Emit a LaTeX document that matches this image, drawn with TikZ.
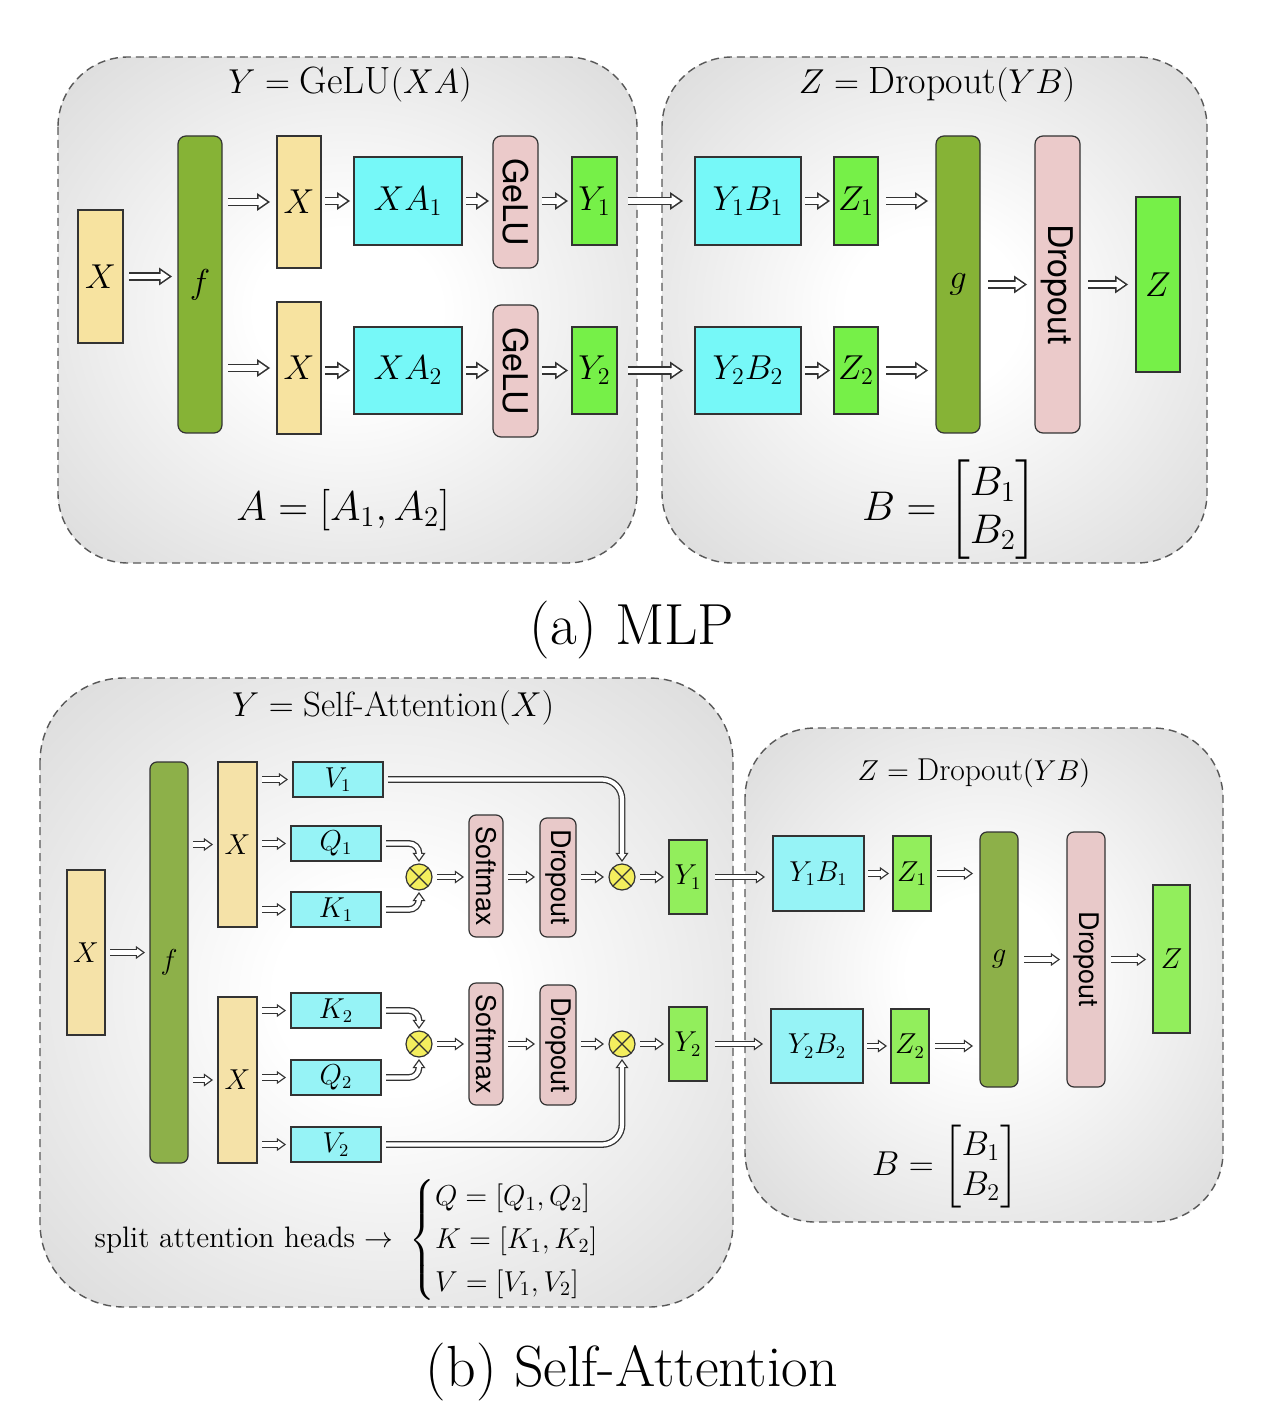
\documentclass[tikz,border=0pt]{standalone}
\usepackage{amsmath}
\usepackage{graphicx}
\usepackage{fontspec}
\newfontfamily\hv{TeX Gyre Heros}
\usetikzlibrary{arrows.meta,calc}

\definecolor{ylwA}{HTML}{F7E3A0}
\definecolor{olvA}{HTML}{86B336}
\definecolor{cynA}{HTML}{76F8F8}
\definecolor{pnkA}{HTML}{EBCACA}
\definecolor{grnA}{HTML}{76F048}
\definecolor{ylwB}{HTML}{F5E2A8}
\definecolor{olvB}{HTML}{8DB049}
\definecolor{cynB}{HTML}{96F3F6}
\definecolor{pnkB}{HTML}{E8C9C9}
\definecolor{grnB}{HTML}{92EE5C}
\definecolor{mulB}{HTML}{F4EE5E}
\definecolor{edge}{HTML}{333333}

\pgfdeclareradialshading{panelshade}{\pgfpointorigin}{color(0bp)=(white); color(8bp)=(white); color(72bp)=(black!33)}

\newcommand\fA{\fontsize{17}{20}\selectfont}
\newcommand\fAs{\fontsize{17}{20}\selectfont\hv}
\newcommand\fB{\fontsize{13.5}{16}\selectfont}
\newcommand\fBs{\fontsize{13.5}{16}\selectfont\hv}

\newcommand\mkbox[7]{%
  \pgfmathsetmacro\mkcx{(#3+#5)/2}\pgfmathsetmacro\mkcy{(#4+#6)/2}%
  \pgfmathsetmacro\mkww{(#5-#3)*0.5}\pgfmathsetmacro\mkhh{(#6-#4)*0.5}%
  \node[#2, minimum width=\mkww pt, minimum height=\mkhh pt] (#1) at (\mkcx,\mkcy) {#7};}

\tikzset{
  panel/.style={draw=black!65, dash pattern=on 4pt off 2.5pt, line width=0.7pt, rounded corners=35pt, shading=panelshade},
  base/.style={draw=edge, line width=0.6pt, inner sep=0pt, outer sep=0pt},
  yelA/.style={base, fill=ylwA}, oliA/.style={base, fill=olvA, rounded corners=4pt},
  cyaA/.style={base, fill=cynA}, pinA/.style={base, fill=pnkA, rounded corners=4pt},
  greA/.style={base, fill=grnA},
  yelB/.style={base, fill=ylwB}, oliB/.style={base, fill=olvB, rounded corners=3.5pt},
  cyaB/.style={base, fill=cynB}, pinB/.style={base, fill=pnkB, rounded corners=3.5pt},
  greB/.style={base, fill=grnB},
  mul/.style={circle, draw=edge, line width=0.6pt, fill=mulB, minimum size=13pt, inner sep=0pt, outer sep=0pt,
    path picture={\draw[edge, line width=0.6pt] (path picture bounding box.south west) -- (path picture bounding box.north east)
      (path picture bounding box.north west) -- (path picture bounding box.south east);}},
  % hollow block arrows: dark outer layer (preaction) + white inner layer
  arrA/.style 2 args={draw=white, line width=2.8pt, shorten <=#1, shorten >=#2+1.41pt,
    -{Triangle[length=4.29pt, width=5.94pt, line width=0pt, color=white, fill=white]},
    preaction={draw=edge, line width=4.4pt, shorten >=#2,
      -{Triangle[length=6.5pt, width=9pt, line width=0pt, color=edge, fill=edge]}}},
  arrB/.style 2 args={draw=white, line width=2.1pt, shorten <=#1, shorten >=#2+1.11pt,
    -{Triangle[length=2.84pt, width=4.07pt, line width=0pt, color=white, fill=white]},
    preaction={draw=edge, line width=3.4pt, shorten >=#2,
      -{Triangle[length=4.6pt, width=6.6pt, line width=0pt, color=edge, fill=edge]}}},
  txt/.style={inner sep=0pt},
}

\begin{document}
\begin{tikzpicture}[x=0.5pt,y=-0.5pt]
\useasboundingbox[fill=white] (0,0) rectangle (1282,1422);

% ---------------- (a) MLP ----------------
\path[panel] (58,57) rectangle (637,563);
\path[panel] (662,57) rectangle (1207,563);

\node[txt] (a-t1) at (350,85) {\fontsize{19}{23}\selectfont $Y = \mathrm{GeLU}(XA)$};
\node[txt] (a-t2) at (937,85) {\fontsize{19}{23}\selectfont $Z = \mathrm{Dropout}(YB)$};

\mkbox{a-x}{yelA}{78}{210}{123}{343}{\fA$X$}
\mkbox{a-f}{oliA}{178}{136}{222}{433}{\fA$f$}
\mkbox{a-x1}{yelA}{277}{136}{321}{268}{\fA$X$}
\mkbox{a-x2}{yelA}{277}{302}{321}{434}{\fA$X$}
\mkbox{a-xa1}{cyaA}{354}{157}{462}{245}{\fA$XA_1$}
\mkbox{a-xa2}{cyaA}{354}{327}{462}{414}{\fA$XA_2$}
\mkbox{a-gl1}{pinA}{493}{136}{538}{268}{\rotatebox{-90}{\fAs GeLU}}
\mkbox{a-gl2}{pinA}{493}{305}{538}{437}{\rotatebox{-90}{\fAs GeLU}}
\mkbox{a-y1}{greA}{572}{157}{617}{245}{\fA$Y_1$}
\mkbox{a-y2}{greA}{572}{327}{617}{414}{\fA$Y_2$}
\mkbox{a-yb1}{cyaA}{695}{157}{801}{245}{\fA$Y_1B_1$}
\mkbox{a-yb2}{cyaA}{695}{327}{801}{414}{\fA$Y_2B_2$}
\mkbox{a-z1}{greA}{834}{157}{878}{245}{\fA$Z_1$}
\mkbox{a-z2}{greA}{834}{327}{878}{414}{\fA$Z_2$}
\mkbox{a-g}{oliA}{936}{136}{980}{433}{\fA$g$}
\mkbox{a-dr}{pinA}{1035}{136}{1080}{433}{\rotatebox{-90}{\fAs Dropout}}
\mkbox{a-z}{greA}{1136}{197}{1180}{372}{\fA$Z$}

\draw[arrA={3pt}{3pt}] (a-x.east) -- (a-x.east -| a-f.west);
\draw[arrA={3pt}{3.5pt}] (a-x1.west -| a-f.east) -- (a-x1.west);
\draw[arrA={3pt}{3.5pt}] (a-x2.west -| a-f.east) -- (a-x2.west);
\draw[arrA={2pt}{2pt}] (a-xa1.west -| a-x1.east) -- (a-xa1.west);
\draw[arrA={2pt}{2pt}] (a-xa2.west -| a-x2.east) -- (a-xa2.west);
\draw[arrA={2pt}{2pt}] (a-xa1.east) -- (a-xa1.east -| a-gl1.west);
\draw[arrA={2pt}{2pt}] (a-xa2.east) -- (a-xa2.east -| a-gl2.west);
\draw[arrA={2pt}{2pt}] (a-y1.west -| a-gl1.east) -- (a-y1.west);
\draw[arrA={2pt}{2pt}] (a-y2.west -| a-gl2.east) -- (a-y2.west);
\draw[arrA={5.5pt}{6pt}] (a-y1.east) -- (a-yb1.west);
\draw[arrA={5.5pt}{6pt}] (a-y2.east) -- (a-yb2.west);
\draw[arrA={2pt}{2pt}] (a-yb1.east) -- (a-z1.west);
\draw[arrA={2pt}{2pt}] (a-yb2.east) -- (a-z2.west);
\draw[arrA={4pt}{4pt}] (a-z1.east) -- (a-z1.east -| a-g.west);
\draw[arrA={4pt}{4pt}] (a-z2.east) -- (a-z2.east -| a-g.west);
\draw[arrA={4pt}{4pt}] (a-g.east) -- (a-dr.west);
\draw[arrA={4pt}{4pt}] (a-dr.east) -- (a-dr.east -| a-z.west);

\node[txt] (a-eqA) at (343,510) {\fontsize{21.5}{25}\selectfont $A = [A_1, A_2]$};
\node[txt] (a-eqB) at (950,510) {\fontsize{20.5}{24}\selectfont $B = \begin{bmatrix} B_1\\ B_2\end{bmatrix}$};

\node[txt] (cap-a) at (632,630) {\fontsize{29}{33}\selectfont (a) MLP};

% ---------------- (b) Self-Attention ----------------
\path[panel, rounded corners=42pt] (40,678) rectangle (733,1307);
\path[panel] (745,728) rectangle (1223,1222);

\node[txt] (b-t1) at (393,708) {\fontsize{17.5}{21}\selectfont $Y = \text{Self-Attention}(X)$};
\node[txt] (b-t2) at (974,773) {\fontsize{15.8}{19}\selectfont $Z = \mathrm{Dropout}(YB)$};

\mkbox{b-x}{yelB}{67}{870}{105}{1035}{\fB$X$}
\mkbox{b-f}{oliB}{150}{762}{188}{1163}{\fB$f$}
\mkbox{b-x1}{yelB}{218}{762}{257}{927}{\fB$X$}
\mkbox{b-x2}{yelB}{218}{997}{257}{1163}{\fB$X$}
\mkbox{b-v1}{cyaB}{293}{762}{383}{797}{\fB$V_1$}
\mkbox{b-q1}{cyaB}{291}{826}{381}{861}{\fB$Q_1$}
\mkbox{b-k1}{cyaB}{291}{892}{381}{927}{\fB$K_1$}
\mkbox{b-k2}{cyaB}{291}{993}{381}{1028}{\fB$K_2$}
\mkbox{b-q2}{cyaB}{291}{1060}{381}{1095}{\fB$Q_2$}
\mkbox{b-v2}{cyaB}{291}{1127}{381}{1162}{\fB$V_2$}
\node[mul] (b-m1) at (419,877) {};
\node[mul] (b-m2) at (622,877) {};
\node[mul] (b-m3) at (419,1044) {};
\node[mul] (b-m4) at (622,1044) {};
\mkbox{b-s1}{pinB}{469}{815}{503}{937}{\rotatebox{-90}{\fBs Softmax}}
\mkbox{b-d1}{pinB}{540}{818}{576}{937}{\rotatebox{-90}{\fBs Dropout}}
\mkbox{b-s2}{pinB}{469}{983}{503}{1105}{\rotatebox{-90}{\fBs Softmax}}
\mkbox{b-d2}{pinB}{540}{985}{576}{1105}{\rotatebox{-90}{\fBs Dropout}}
\mkbox{b-y1}{greB}{669}{840}{707}{914}{\fB$Y_1$}
\mkbox{b-y2}{greB}{669}{1007}{707}{1081}{\fB$Y_2$}
\mkbox{b-yb1}{cyaB}{773}{836}{864}{911}{\fB$Y_1B_1$}
\mkbox{b-z1}{greB}{893}{836}{931}{911}{\fB$Z_1$}
\mkbox{b-yb2}{cyaB}{771}{1009}{863}{1083}{\fB$Y_2B_2$}
\mkbox{b-z2}{greB}{891}{1009}{929}{1083}{\fB$Z_2$}
\mkbox{b-g}{oliB}{980}{832}{1018}{1087}{\fB$g$}
\mkbox{b-dr}{pinB}{1067}{832}{1105}{1087}{\rotatebox{-90}{\fBs Dropout}}
\mkbox{b-z}{greB}{1153}{885}{1190}{1033}{\fB$Z$}

\draw[arrB={2.5pt}{2.5pt}] (b-x.east) -- (b-x.east -| b-f.west);
\draw[arrB={2.5pt}{2.5pt}] (b-x1.west -| b-f.east) -- (b-x1.west);
\draw[arrB={2.5pt}{2.5pt}] (b-x2.west -| b-f.east) -- (b-x2.west);
\draw[arrB={2.5pt}{2.5pt}] (b-v1.west -| b-x1.east) -- (b-v1.west);
\draw[arrB={2.5pt}{2.5pt}] (b-q1.west -| b-x1.east) -- (b-q1.west);
\draw[arrB={2.5pt}{2.5pt}] (b-k1.west -| b-x1.east) -- (b-k1.west);
\draw[arrB={2.5pt}{2.5pt}] (b-k2.west -| b-x2.east) -- (b-k2.west);
\draw[arrB={2.5pt}{2.5pt}] (b-q2.west -| b-x2.east) -- (b-q2.west);
\draw[arrB={2.5pt}{2.5pt}] (b-v2.west -| b-x2.east) -- (b-v2.west);
\draw[arrB={2.5pt}{1pt}, rounded corners=5pt] (b-q1.east) -| (b-m1.north);
\draw[arrB={2.5pt}{1pt}, rounded corners=5pt] (b-k1.east) -| (b-m1.south);
\draw[arrB={2.5pt}{1pt}, rounded corners=5pt] (b-k2.east) -| (b-m3.north);
\draw[arrB={2.5pt}{1pt}, rounded corners=5pt] (b-q2.east) -| (b-m3.south);
\draw[arrB={2.5pt}{1pt}, rounded corners=10pt] (b-v1.east) -| (b-m2.north);
\draw[arrB={2.5pt}{1pt}, rounded corners=10pt] (b-v2.east) -| (b-m4.south);
\draw[arrB={2.5pt}{2.5pt}] (b-m1.east) -- (b-m1.east -| b-s1.west);
\draw[arrB={2.5pt}{2.5pt}] (b-m3.east) -- (b-m3.east -| b-s2.west);
\draw[arrB={2.5pt}{2.5pt}] (b-m1.east -| b-s1.east) -- (b-m1.east -| b-d1.west);
\draw[arrB={2.5pt}{2.5pt}] (b-m3.east -| b-s2.east) -- (b-m3.east -| b-d2.west);
\draw[arrB={2.5pt}{2.5pt}] (b-m2.west -| b-d1.east) -- (b-m2.west);
\draw[arrB={2.5pt}{2.5pt}] (b-m4.west -| b-d2.east) -- (b-m4.west);
\draw[arrB={2.5pt}{2.5pt}] (b-m2.east) -- (b-m2.east -| b-y1.west);
\draw[arrB={2.5pt}{2.5pt}] (b-m4.east) -- (b-m4.east -| b-y2.west);
\draw[arrB={4pt}{4pt}] (b-y1.east) -- (b-y1.east -| b-yb1.west);
\draw[arrB={4pt}{4pt}] (b-y2.east) -- (b-y2.east -| b-yb2.west);
\draw[arrB={2pt}{2pt}] (b-yb1.east) -- (b-z1.west);
\draw[arrB={2pt}{2pt}] (b-yb2.east) -- (b-z2.west);
\draw[arrB={3pt}{3.5pt}] (b-z1.east) -- (b-z1.east -| b-g.west);
\draw[arrB={3pt}{3.5pt}] (b-z2.east) -- (b-z2.east -| b-g.west);
\draw[arrB={3pt}{3.5pt}] (b-g.east) -- (b-dr.west);
\draw[arrB={3pt}{3.5pt}] (b-dr.east) -- (b-dr.east -| b-z.west);

\node[txt] (b-eqB) at (945,1167) {\fontsize{17}{20}\selectfont $B = \begin{bmatrix} B_1\\ B_2\end{bmatrix}$};
\node[txt] (b-split) at (362,1240) {\fontsize{14.8}{17.8}\selectfont split attention heads $\rightarrow\;\begin{cases} Q = [Q_1, Q_2]\\ K = [K_1, K_2]\\ V = [V_1, V_2]\end{cases}$};

\node[txt] (cap-b) at (632,1372) {\fontsize{29}{33}\selectfont (b) Self-Attention};
\end{tikzpicture}
\end{document}
